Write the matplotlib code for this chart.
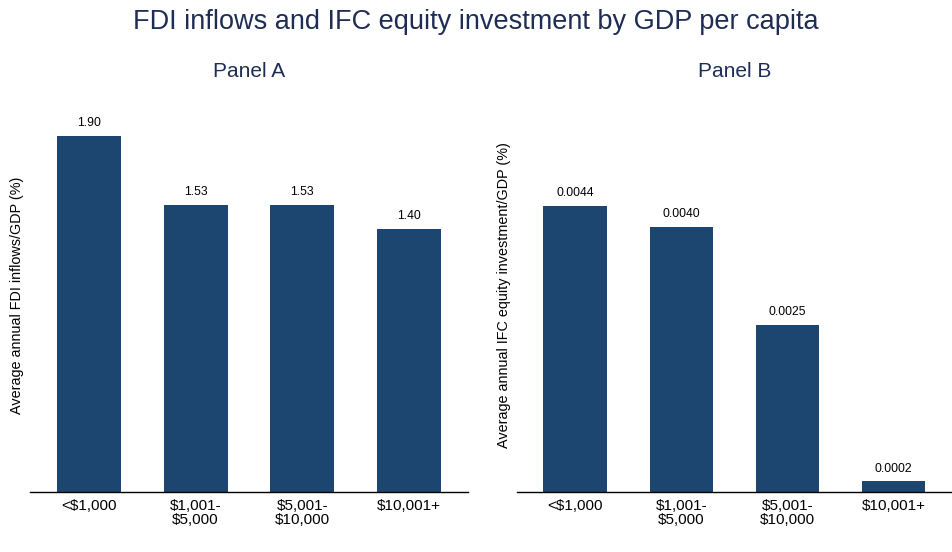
import matplotlib.pyplot as plt

plt.rcParams['font.family'] = ['Liberation Sans', 'DejaVu Sans']

# GDP per capita groups (x-axis)
categories = ['<$1,000', '$1,001-\n$5,000', '$5,001-\n$10,000', '$10,001+']

# Panel A: average annual FDI inflows/GDP (%)
fdi_values = [1.90, 1.53, 1.53, 1.40]

# Panel B: average annual IFC equity investment/GDP (%)
ifc_values = [0.00436, 0.00404, 0.00254, 0.00016]

bar_color = '#1c4670'
title_color = '#1f2d54'


def draw_panel(ax, values, ylabel, title, fmt, ymax):
    x = range(len(categories))
    bars = ax.bar(x, values, width=0.6, color=bar_color)
    ax.bar_label(bars, labels=[fmt.format(v) for v in values],
                 padding=5, fontsize=8.7)
    ax.set_xticks(list(x))
    ax.set_xticklabels(categories, fontsize=11, linespacing=1.0)
    ax.tick_params(axis='x', length=0, pad=5)
    ax.set_yticks([])
    ax.set_xlim(-0.55, 3.55)
    ax.set_ylim(0, ymax)
    for side in ['top', 'right', 'left']:
        ax.spines[side].set_visible(False)
    ax.spines['bottom'].set_linewidth(1.0)
    ax.set_ylabel(ylabel, fontsize=10.4, labelpad=4)
    ax.set_title(title, fontsize=15, color=title_color, pad=15)


fig = plt.figure(figsize=(9.52, 5.52), dpi=100)
ax_a = fig.add_axes([0.0315, 0.1087, 0.46, 0.7138])
ax_b = fig.add_axes([0.543, 0.1087, 0.457, 0.7138])

draw_panel(ax_a, fdi_values, 'Average annual FDI inflows/GDP (%)',
           'Panel A', '{:.2f}', 2.1)
draw_panel(ax_b, ifc_values, 'Average annual IFC equity investment/GDP (%)',
           'Panel B', '{:.4f}', 0.006)

fig.text(0.5, 0.96, 'FDI inflows and IFC equity investment by GDP per capita',
         fontsize=19.5, color=title_color, ha='center', va='center')

fig.savefig('out.png', dpi=100)
